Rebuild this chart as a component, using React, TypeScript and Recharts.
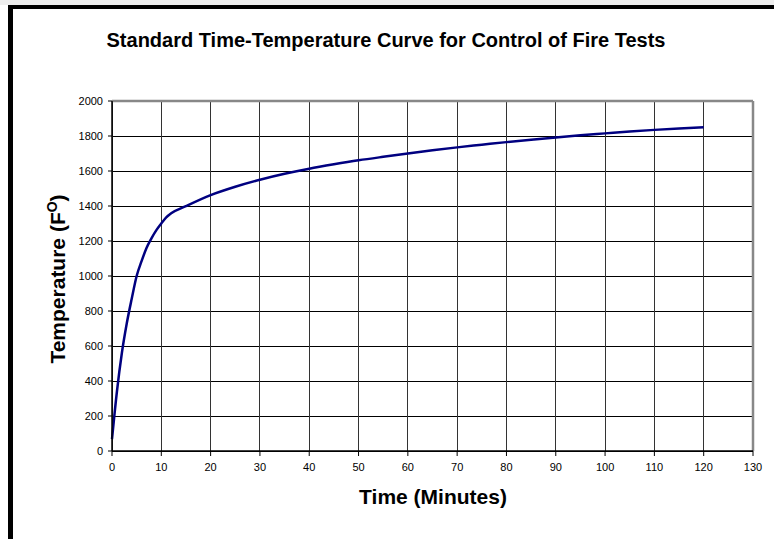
import { LineChart, Line, XAxis, YAxis, CartesianGrid, ReferenceLine } from "recharts";

const minutes = [0, 1, 2, 3, 4, 5, 6, 7, 8, 9, 10, 11, 12, 15, 20, 25, 30, 35, 40, 45, 50, 55, 60, 65, 70, 75, 80, 85, 90, 95, 100, 105, 110, 115, 120];
const temperatures = [68, 340, 560, 730, 870, 1000, 1085, 1160, 1215, 1262, 1300, 1335, 1358, 1399, 1462, 1510, 1550, 1584, 1613, 1638, 1661, 1681, 1700, 1718, 1735, 1750, 1765, 1779, 1792, 1804, 1815, 1826, 1835, 1843, 1850];
const xTicks = [0, 10, 20, 30, 40, 50, 60, 70, 80, 90, 100, 110, 120, 130];
const yTicks = [0, 200, 400, 600, 800, 1000, 1200, 1400, 1600, 1800, 2000];

const data = minutes.map((t, i) => ({ t, temp: temperatures[i] }));

const font = "'Liberation Sans', Arial, sans-serif";
const tickStyle = { fontSize: 11, fill: "#000", fontFamily: font };

export default function App() {
  return (
    <div style={{ position: "absolute", left: 0, top: 0, width: 774, height: 539, background: "#fff", overflow: "hidden" }}>
      <div style={{ position: "absolute", left: 0, top: 0, width: 774, height: 5, background: "#eee" }} />
      <div
        style={{
          position: "absolute",
          left: 8,
          top: 5,
          width: 800,
          height: 600,
          borderLeft: "5px solid #000",
          borderTop: "4px solid #000",
        }}
      />
      <div
        style={{
          position: "absolute",
          left: 386,
          top: 40,
          transform: "translate(-50%, -50%)",
          whiteSpace: "nowrap",
          fontFamily: font,
          fontWeight: "bold",
          fontSize: 20,
        }}
      >
        Standard Time-Temperature Curve for Control of Fire Tests
      </div>
      <div
        style={{
          position: "absolute",
          left: 57,
          top: 279,
          transform: "translate(-50%, -50%) rotate(-90deg)",
          whiteSpace: "nowrap",
          fontFamily: font,
          fontWeight: "bold",
          fontSize: 21,
        }}
      >
        Temperature (F<sup style={{ fontSize: 14 }}>O</sup>)
      </div>
      <div
        style={{
          position: "absolute",
          left: 433,
          top: 497,
          transform: "translate(-50%, -50%)",
          whiteSpace: "nowrap",
          fontFamily: font,
          fontWeight: "bold",
          fontSize: 21,
        }}
      >
        Time (Minutes)
      </div>
      <div style={{ position: "absolute", left: 0, top: 0 }}>
        <LineChart width={774} height={539} data={data} margin={{ top: 101, right: 21, bottom: 58, left: 0 }}>
          <CartesianGrid horizontal={true} vertical={false} stroke="#000" strokeOpacity={1} shapeRendering="crispEdges" />
          <CartesianGrid horizontal={false} vertical={true} stroke="#333" strokeOpacity={1} shapeRendering="crispEdges" />
          <XAxis
            dataKey="t"
            type="number"
            domain={[0, 130]}
            ticks={xTicks}
            interval={0}
            height={30}
            tickSize={5}
            tickMargin={7}
            tick={tickStyle}
            axisLine={{ stroke: "#000", strokeWidth: 1.5 }}
            tickLine={{ stroke: "#000" }}
          />
          <YAxis
            type="number"
            domain={[0, 2000]}
            ticks={yTicks}
            interval={0}
            width={112}
            tickSize={4}
            tickMargin={5}
            tick={tickStyle}
            axisLine={{ stroke: "#000", strokeWidth: 1.5 }}
            tickLine={{ stroke: "#000" }}
          />
          <ReferenceLine y={2000} stroke="#888" strokeWidth={2.5} />
          <ReferenceLine x={130} stroke="#888" strokeWidth={2.5} />
          <Line
            type="monotone"
            dataKey="temp"
            stroke="#000080"
            strokeWidth={2.5}
            dot={false}
            activeDot={false}
            isAnimationActive={false}
          />
        </LineChart>
      </div>
    </div>
  );
}
